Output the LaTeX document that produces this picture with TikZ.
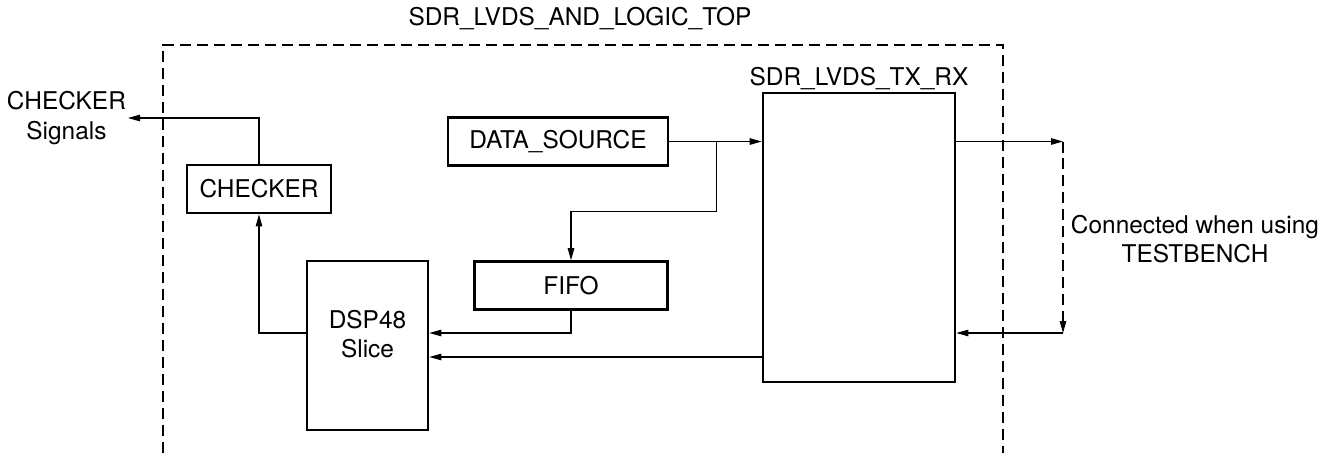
\documentclass[tikz,border=0pt]{standalone}
\usepackage{fontspec}
\setmainfont{TeX Gyre Heros}
\usetikzlibrary{%
	calc,%
	arrows.meta,%
	positioning,%
}
\tikzset{
	>={Triangle[length=0.24cm, width=0.13cm]},%
	nodes={align=center},%
	blockbox/.style={%
			draw,%
			rectangle,%
			line width=1.5pt,%
			inner sep=0pt,%
			fill=white},%
	wire/.style={%
			->,%
			line width=0.6pt},%
	boundary/.style={%
			line width=0.7pt,%
			dash pattern=on 0.22cm off 0.12cm},%
	plainlabel/.style={%
			inner sep=1pt},%
}

\begin{document}
\begin{tikzpicture}[x=0.02cm, y=-0.02cm, nodes={font={\fontsize{13.9}{16.6}\selectfont}}]%
	\useasboundingbox (0,0) rectangle (1331,453);

	% top level wrapper, open at the bottom
	\coordinate (wl) at (163,453);
	\coordinate (wr) at (1003,453);
	\draw[boundary] (wl) |- (1003,45) -- (wr);
	\node[plainlabel, anchor=base] (top) at (580,26) {SDR\_LVDS\_AND\_LOGIC\_TOP};

	\node[blockbox, minimum width=2.88cm, minimum height=0.96cm] (chk) at (259,189) {CHECKER};
	\node[blockbox, minimum width=4.40cm, minimum height=0.96cm] (dsrc) at (558,141.5) {DATA\_SOURCE};
	\node[blockbox, minimum width=3.86cm, minimum height=0.96cm] (fifo) at (571,285.5) {FIFO};
	\node[blockbox, minimum width=2.42cm, minimum height=3.38cm,
		label={[plainlabel, yshift=0.22cm]center:{DSP48\\Slice}}] (dsp) at (367.5,345.5) {};
	\node[blockbox, minimum width=3.84cm, minimum height=5.78cm] (txrx) at (859,237.5) {};
	\node[plainlabel, anchor=base] (txrxlbl) at ($(txrx.north)+(0,-6)$) {SDR\_LVDS\_TX\_RX};

	\node[plainlabel, anchor=east] (sig) at (128,118) {CHECKER\\Signals};
	\node[plainlabel] (tb) at (1195,239) {Connected when using\\TESTBENCH};

	% data path
	\coordinate (br) at ($(dsrc.east)+(47,0)$);
	\draw[wire] (dsrc) -- (dsrc -| txrx.west);
	\draw[wire] (br) |- ($(fifo.north)+(0,-48.5)$) -- (fifo.north);
	\draw[wire] (fifo.south) |- ($(dsp.east)+(0,-12.5)$);
	\path ($(dsp.east)+(0,11.5)$) coordinate (dspin);
	\draw[wire] (dspin -| txrx.west) -- (dspin);
	\draw[wire] ($(dsp.west)+(0,-12.5)$) -| (chk.south);
	\draw[wire] (chk.north) |- (sig.east);

	% loopback outside the wrapper
	\coordinate (tbtop) at (1063,141.5);
	\coordinate (tbbot) at (1063,333);
	\draw[wire] (txrx.east |- tbtop) -- (tbtop);
	\draw[wire, boundary] (tbtop) -- (tbbot);
	\draw[wire] (tbbot) -- (tbbot -| txrx.east);
\end{tikzpicture}
\end{document}
